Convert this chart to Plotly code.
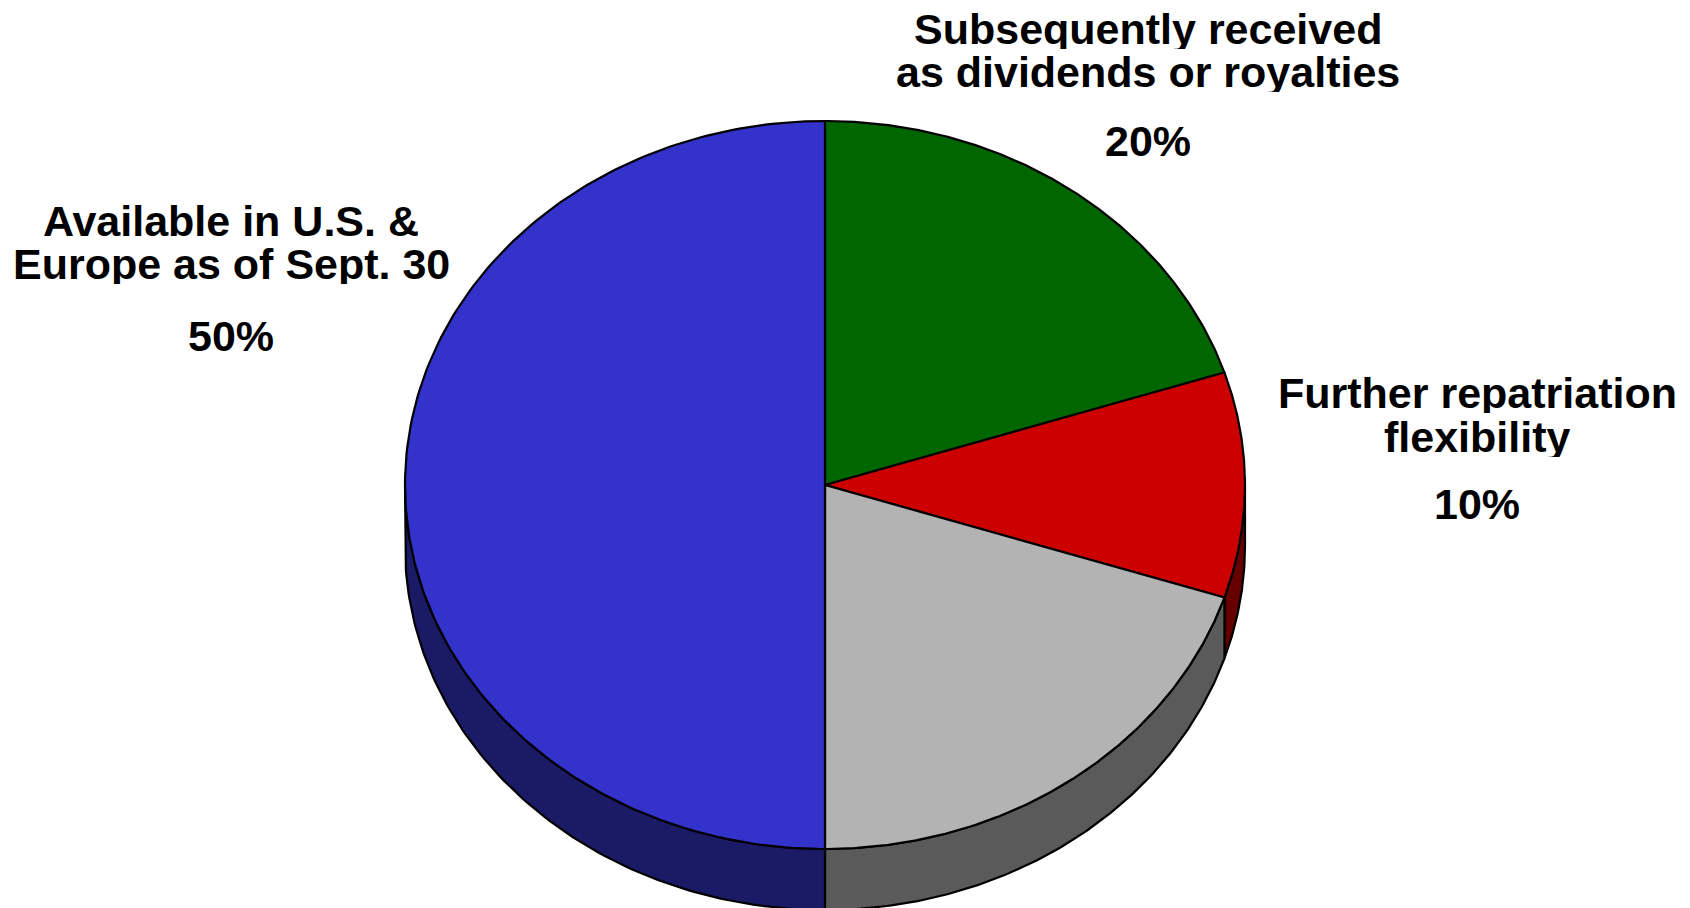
import numpy as np
import plotly.graph_objects as go

# ---- data ----
categories = ["Subsequently received as dividends or royalties",
              "Further repatriation flexibility",
              "Other",
              "Available in U.S. & Europe as of Sept. 30"]
values = [20, 10, 20, 50]
label_lines = [["Subsequently received", "as dividends or royalties"],
               ["Further repatriation", "flexibility"],
               None,
               ["Available in U.S. &", "Europe as of Sept. 30"]]
pct_text = ["20%", "10%", None, "50%"]

# ---- styles / geometry ----
top_colors = ["#006600", "#CC0000", "#B3B3B3", "#3333CC"]
side_colors = ["#003300", "#660000", "#5A5A5A", "#1A1A66"]
W, H = 1690, 908
cx, cy, rx, ry, depth = 825, 485, 420, 364, 61
label_pos = [(1148, [29, 72], 141), (1477, [393, 437], 504), None, (231, [221, 264], 336)]
FONT = "Liberation Sans, Arial, sans-serif"
FS = 43

def pt(theta_deg, dy=0.0):
    t = np.radians(theta_deg)
    return cx + rx * np.cos(t), cy - ry * np.sin(t) + dy

total = float(sum(values))
bounds = []
start = 90.0
for v in values:
    end = start - 360.0 * v / total
    bounds.append((start, end))
    start = end

fig = go.Figure()

# sides (visible where sin(theta) <= 0)
for i, (a1, a2) in enumerate(bounds):
    lo, hi = min(a1, a2), max(a1, a2)
    for shift in (0, -360, 360):
        s_lo, s_hi = max(lo + shift, -180), min(hi + shift, 0)
        if s_hi - s_lo > 1e-6:
            th = np.linspace(s_hi, s_lo, 120)
            xs1, ys1 = pt(th)
            xs2, ys2 = pt(th[::-1], depth)
            xs = np.concatenate([xs1, xs2, xs1[:1]])
            ys = np.concatenate([ys1, ys2, ys1[:1]])
            fig.add_trace(go.Scatter(x=xs, y=ys, mode="lines", fill="toself",
                                     fillcolor=side_colors[i],
                                     line=dict(color="black", width=2.2),
                                     hoverinfo="skip", showlegend=False))

# top faces
for i, (a1, a2) in enumerate(bounds):
    th = np.linspace(a1, a2, 200)
    xa, ya = pt(th)
    xs = np.concatenate([[cx], xa, [cx]])
    ys = np.concatenate([[cy], ya, [cy]])
    fig.add_trace(go.Scatter(x=xs, y=ys, mode="lines", fill="toself",
                             fillcolor=top_colors[i],
                             line=dict(color="black", width=2.2),
                             name=categories[i], hoverinfo="name",
                             showlegend=False))

# labels
for i, lp in enumerate(label_pos):
    if lp is None:
        continue
    x0, line_ys, pct_y = lp
    for line, yy in zip(label_lines[i], line_ys):
        fig.add_annotation(x=x0, y=yy, text=line, showarrow=False,
                           xanchor="center", yanchor="middle", height=40,
                           valign="middle",
                           font=dict(family=FONT, size=FS, color="black", weight="bold"))
    fig.add_annotation(x=x0, y=pct_y, text=pct_text[i], showarrow=False,
                       xanchor="center", yanchor="middle", height=40,
                       valign="middle",
                       font=dict(family=FONT, size=FS, color="black", weight="bold"))

fig.update_layout(width=W, height=H, margin=dict(l=0, r=0, t=0, b=0),
                  paper_bgcolor="white", plot_bgcolor="white",
                  xaxis=dict(range=[0, W], visible=False, fixedrange=True),
                  yaxis=dict(range=[H, 0], visible=False, fixedrange=True))
fig.write_html("out.html")
